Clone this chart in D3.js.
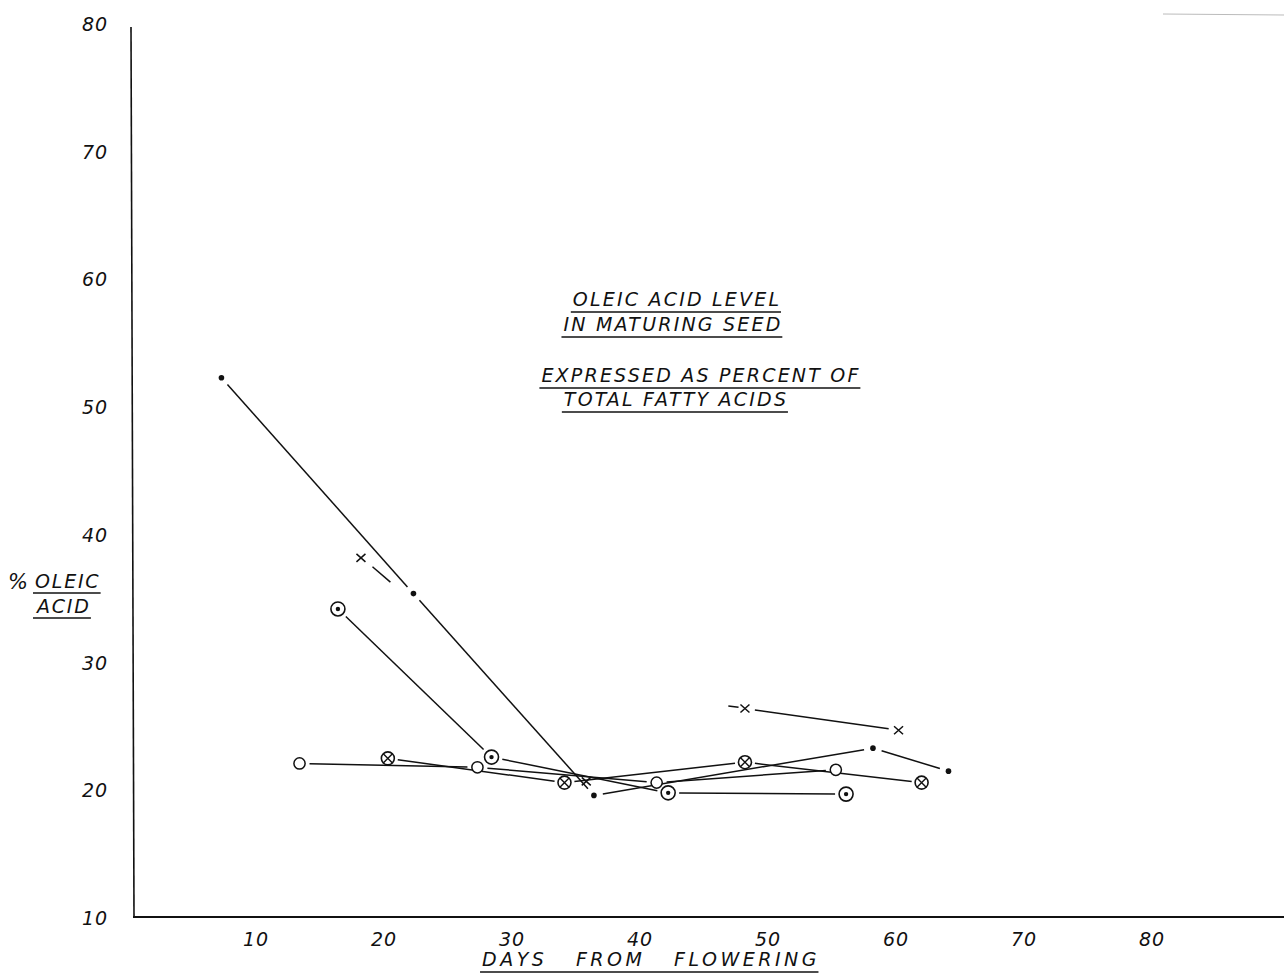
<!DOCTYPE html>
<html>
<head>
<meta charset="utf-8">
<script src="https://cdn.jsdelivr.net/npm/d3@7"></script>
<style>
  body { margin: 0; background: #fff; }
  text { font-family: "DejaVu Sans", sans-serif; font-style: italic; fill: #111; }
</style>
</head>
<body>
<div id="wrapper"></div>
<script>
// tick labels
const xTicks = [10, 20, 30, 40, 50, 60, 70, 80];
const yTicks = [10, 20, 30, 40, 50, 60, 70, 80];

// series (days from flowering, % oleic acid)
const dotDays = [7.3, 22.3, 36.4, 58.2, 64.1];
const dotOleic = [52.3, 35.4, 19.6, 23.3, 21.5];

const crossDays = [18.2, 35.8, 48.2, 60.2];
const crossOleic = [38.2, 20.7, 26.4, 24.7];
const crossJoined = [false, false, true];
// short pen strokes next to the crosses
const crossStubs = [[19.1, 37.5, 20.5, 36.3], [46.9, 26.6, 47.7, 26.5]];

const dotCircleDays = [16.4, 28.4, 42.2, 56.1];
const dotCircleOleic = [34.2, 22.6, 19.8, 19.7];

const crossCircleDays = [20.3, 34.1, 48.2, 62.0];
const crossCircleOleic = [22.5, 20.6, 22.2, 20.6];

const circleDays = [13.4, 27.3, 41.3, 55.3];
const circleOleic = [22.1, 21.8, 20.6, 21.6];

const titleLines = ["OLEIC ACID LEVEL", "IN MATURING SEED", "EXPRESSED AS PERCENT OF", "TOTAL FATTY ACIDS"];

function drawChart() {
    const dimensions = {
        width: 1284,
        height: 979,
        left: 133,
        bottom: 917,
        top: 27
    };

    const svg = d3.select("#wrapper")
        .append("svg")
        .attr("width", dimensions.width)
        .attr("height", dimensions.height);

    const xScale = d3.scaleLinear().domain([0, 90]).range([128, 1280]);
    const yScale = d3.scaleLinear().domain([10, 80]).range([918, 24]);

    // axes (hand drawn frame, no tick marks)
    svg.append("line")
        .attr("x1", dimensions.left - 2).attr("y1", dimensions.top)
        .attr("x2", dimensions.left + 1).attr("y2", dimensions.bottom)
        .attr("stroke", "#111").attr("stroke-width", 1.6);
    svg.append("line")
        .attr("x1", dimensions.left).attr("y1", dimensions.bottom)
        .attr("x2", dimensions.width).attr("y2", dimensions.bottom)
        .attr("stroke", "#111").attr("stroke-width", 1.8);

    // faint stray line top right
    svg.append("line")
        .attr("x1", 1163).attr("y1", 14).attr("x2", 1284).attr("y2", 15)
        .attr("stroke", "#bbb").attr("stroke-width", 1);

    svg.append("g").selectAll("text")
        .data(yTicks)
        .enter().append("text")
        .attr("x", 95)
        .attr("y", d => yScale(d) + 7)
        .attr("text-anchor", "middle")
        .attr("font-size", "19px")
        .attr("letter-spacing", "1px")
        .text(d => d);

    svg.append("g").selectAll("text")
        .data(xTicks)
        .enter().append("text")
        .attr("x", d => xScale(d))
        .attr("y", 946)
        .attr("text-anchor", "middle")
        .attr("font-size", "19px")
        .attr("letter-spacing", "1px")
        .text(d => d);

    // underlined lettering
    function lettering(str, x, y, size, spacing, anchor, underlineGap) {
        const t = svg.append("text")
            .attr("x", x).attr("y", y)
            .attr("text-anchor", anchor)
            .attr("font-size", size + "px")
            .attr("letter-spacing", spacing + "px")
            .attr("xml:space", "preserve")
            .style("white-space", "pre")
            .text(str);
        const box = t.node().getBBox();
        svg.append("line")
            .attr("x1", box.x - 2).attr("x2", box.x + box.width - spacing + 2)
            .attr("y1", y + underlineGap).attr("y2", y + underlineGap)
            .attr("stroke", "#111").attr("stroke-width", 1.5);
    }

    lettering(titleLines[0], 677, 306, 19, 2.2, "middle", 6);
    lettering(titleLines[1], 673, 331, 19, 2.2, "middle", 6);
    lettering(titleLines[2], 701, 382, 19, 2.2, "middle", 6);
    lettering(titleLines[3], 676, 406, 19, 2.2, "middle", 6);

    svg.append("text").attr("x", 8).attr("y", 589).attr("font-size", "21px").text("%");
    lettering("OLEIC", 35, 588, 19, 1.8, "start", 5);
    lettering("ACID", 37, 613, 19, 1.8, "start", 5);

    lettering("DAYS   FROM   FLOWERING", 651, 966, 19, 3.5, "middle", 6);

    // line segments, trimmed so the pen stops short of each marker
    const plot = svg.append("g");

    function segments(days, oleic, joined, gap) {
        const pts = days.map((d, i) => [xScale(d), yScale(oleic[i])]);
        const segs = [];
        for (let i = 0; i < pts.length - 1; i++) {
            if (joined && !joined[i]) continue;
            const [x1, y1] = pts[i];
            const [x2, y2] = pts[i + 1];
            const len = Math.hypot(x2 - x1, y2 - y1);
            const ux = (x2 - x1) / len, uy = (y2 - y1) / len;
            segs.push([x1 + ux * gap, y1 + uy * gap, x2 - ux * gap, y2 - uy * gap]);
        }
        plot.selectAll(null)
            .data(segs)
            .enter().append("line")
            .attr("x1", d => d[0]).attr("y1", d => d[1])
            .attr("x2", d => d[2]).attr("y2", d => d[3])
            .attr("stroke", "#111").attr("stroke-width", 1.5);
    }

    segments(dotDays, dotOleic, null, 9);
    segments(crossDays, crossOleic, crossJoined, 10);
    segments(dotCircleDays, dotCircleOleic, null, 11);
    segments(crossCircleDays, crossCircleOleic, null, 10);
    segments(circleDays, circleOleic, null, 10);

    plot.selectAll(null)
        .data(crossStubs)
        .enter().append("line")
        .attr("x1", d => xScale(d[0])).attr("y1", d => yScale(d[1]))
        .attr("x2", d => xScale(d[2])).attr("y2", d => yScale(d[3]))
        .attr("stroke", "#111").attr("stroke-width", 1.5);

    // markers
    const markers = svg.append("g");

    markers.selectAll(null)
        .data(dotDays.map((d, i) => [d, dotOleic[i]]))
        .enter().append("circle")
        .attr("cx", d => xScale(d[0])).attr("cy", d => yScale(d[1]))
        .attr("r", 2.8).attr("fill", "#111");

    const crosses = markers.selectAll(null)
        .data(crossDays.map((d, i) => [d, crossOleic[i]]))
        .enter().append("g")
        .attr("transform", d => `translate(${xScale(d[0])},${yScale(d[1])})`);
    crosses.append("path")
        .attr("d", "M-4.5,-4 L4.5,4 M-4.5,4 L4.5,-4")
        .attr("stroke", "#111").attr("stroke-width", 1.5).attr("fill", "none");

    const dotCircles = markers.selectAll(null)
        .data(dotCircleDays.map((d, i) => [d, dotCircleOleic[i]]))
        .enter().append("g")
        .attr("transform", d => `translate(${xScale(d[0])},${yScale(d[1])})`);
    dotCircles.append("circle").attr("r", 7).attr("fill", "#fff")
        .attr("stroke", "#111").attr("stroke-width", 1.6);
    dotCircles.append("circle").attr("r", 2.2).attr("fill", "#111");

    const crossCircles = markers.selectAll(null)
        .data(crossCircleDays.map((d, i) => [d, crossCircleOleic[i]]))
        .enter().append("g")
        .attr("transform", d => `translate(${xScale(d[0])},${yScale(d[1])})`);
    crossCircles.append("circle").attr("r", 6.5).attr("fill", "#fff")
        .attr("stroke", "#111").attr("stroke-width", 1.6);
    crossCircles.append("path")
        .attr("d", "M-4.6,-4.6 L4.6,4.6 M-4.6,4.6 L4.6,-4.6")
        .attr("stroke", "#111").attr("stroke-width", 1.4);

    markers.selectAll(null)
        .data(circleDays.map((d, i) => [d, circleOleic[i]]))
        .enter().append("circle")
        .attr("cx", d => xScale(d[0])).attr("cy", d => yScale(d[1]))
        .attr("r", 5.6).attr("fill", "#fff")
        .attr("stroke", "#111").attr("stroke-width", 1.5);
}

drawChart();
</script>
</body>
</html>
